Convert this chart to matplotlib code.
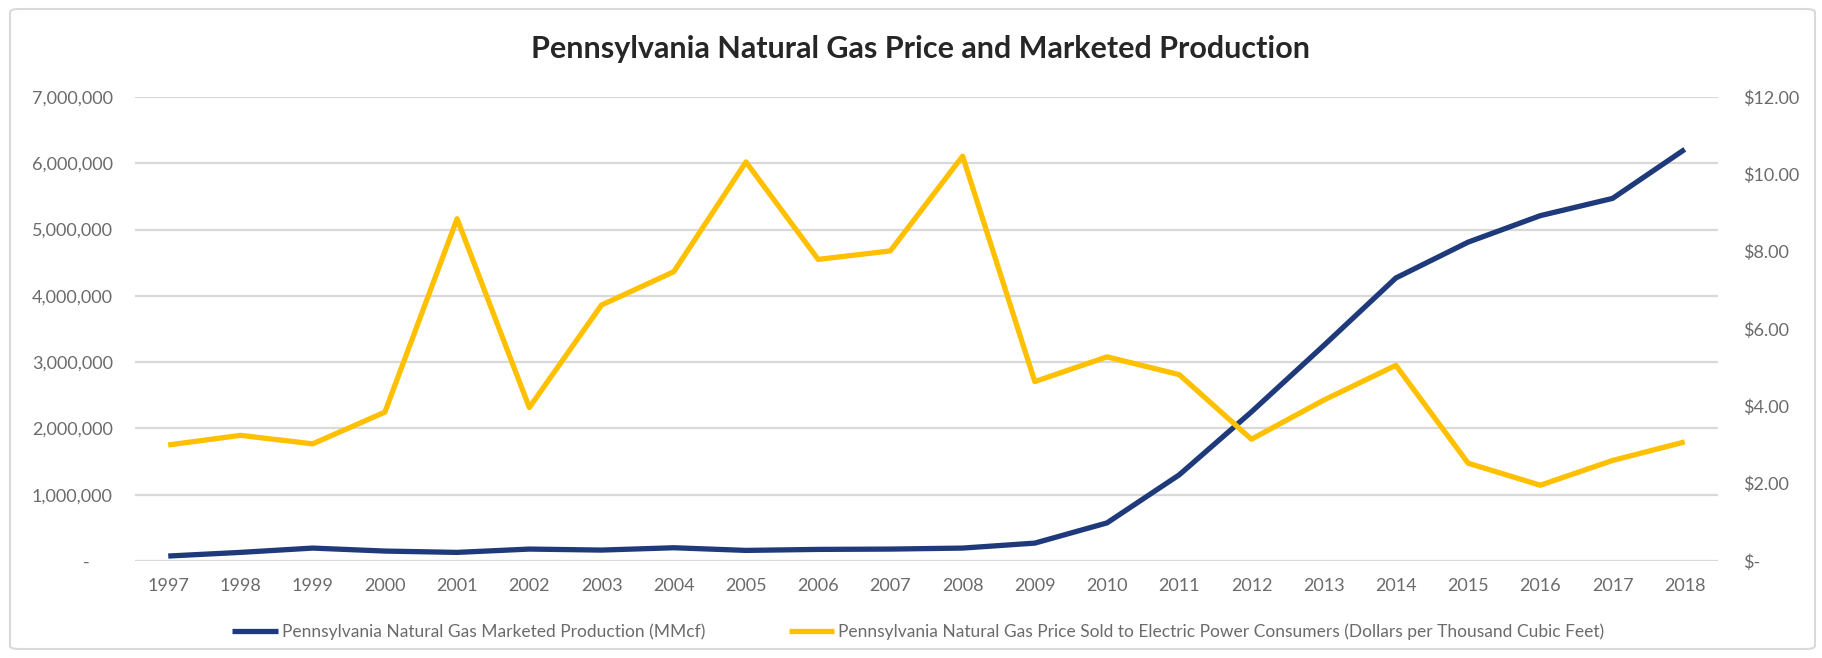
import matplotlib
matplotlib.use("Agg")
import matplotlib.pyplot as plt
from matplotlib.patches import FancyBboxPatch
from matplotlib.ticker import FuncFormatter, MultipleLocator

plt.rcParams['font.family'] = ['Lato', 'DejaVu Sans']

years = [str(y) for y in range(1997, 2019)]
# marketed production, MMcf (left axis)
production = [75000, 130000, 195000, 150000, 130000, 180000, 165000, 200000,
              160000, 175000, 180000, 195000, 270000, 575000, 1300000, 2250000,
              3250000, 4270000, 4810000, 5210000, 5470000, 6210000]
# price to electric power consumers, $/Mcf (right axis)
price = [3.00, 3.25, 3.03, 3.85, 8.85, 3.97, 6.62, 7.48, 10.32, 7.80, 8.02, 10.47,
         4.64, 5.28, 4.82, 3.15, 4.16, 5.06, 2.53, 1.96, 2.60, 3.08]

blue = "#1F3A7A"
gold = "#FFC000"
grid_c = "#D9D9D9"
text_c = "#6b6b6b"

fig = plt.figure(figsize=(18.22, 6.58), dpi=100)
ax = fig.add_axes([0.0741, 0.1474, 0.8688, 0.7052])
ax2 = ax.twinx()

x = list(range(len(years)))
l1, = ax.plot(x, production, color=blue, lw=3.8, solid_capstyle='butt',
              label="Pennsylvania Natural Gas Marketed Production (MMcf)")
l2, = ax2.plot(x, price, color=gold, lw=3.8, solid_capstyle='butt',
               label="Pennsylvania Natural Gas Price Sold to Electric Power Consumers (Dollars per Thousand Cubic Feet)")

ax.set_xlim(-0.46, 21.46)
ax.set_ylim(0, 7000000)
ax2.set_ylim(0, 12)
ax.yaxis.set_major_locator(MultipleLocator(1000000))
ax2.yaxis.set_major_locator(MultipleLocator(2))
ax.set_xticks(x)
ax.set_xticklabels(years)

ax.yaxis.set_major_formatter(FuncFormatter(lambda v, p: "-     " if v == 0 else "{:,.0f}".format(v)))
ax2.yaxis.set_major_formatter(FuncFormatter(lambda v, p: "$-" if v == 0 else "${:,.2f}".format(v)))

ax.grid(axis='y', color=grid_c, lw=1.6)
ax.set_axisbelow(True)
for a in (ax, ax2):
    for s in a.spines.values():
        s.set_visible(False)
    a.tick_params(length=0, labelsize=13, labelcolor=text_c)
ax.tick_params(axis='y', pad=16)
ax2.tick_params(axis='y', pad=18)
ax.tick_params(axis='x', pad=12)
ax2.set_zorder(ax.get_zorder() + 1)
ax2.patch.set_visible(False)

fig.text(0.505, 0.925, "Pennsylvania Natural Gas Price and Marketed Production",
         ha='center', va='center', fontsize=22, fontweight='bold', color="#262626")

fig.legend(handles=[l1, l2], loc='center', bbox_to_anchor=(0.504, 0.04), ncol=2,
           frameon=False, fontsize=12.5, handlelength=2.6, handletextpad=0.25,
           columnspacing=4.8, labelcolor=text_c)

frame = FancyBboxPatch((10 / 1822, 9 / 658), 1805 / 1822, 640 / 658,
                       boxstyle="round,pad=0,rounding_size=0.005",
                       transform=fig.transFigure, fill=False, ec=grid_c, lw=1.5)
fig.patches.append(frame)

fig.savefig("out.png", dpi=100)
